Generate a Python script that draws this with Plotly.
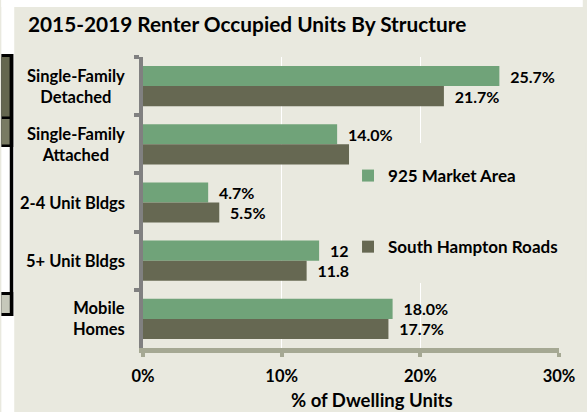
import plotly.graph_objects as go

categories = ["Single-Family<br>Detached", "Single-Family<br>Attached", "2-4 Unit Bldgs",
              "5+ Unit Bldgs", "Mobile<br>Homes"]
market_area = [25.7, 14.0, 4.7, 12.7, 18.0]
south_hampton = [21.7, 15.0, 5.5, 11.8, 17.7]
x_ticks = [0, 10, 20, 30]
x_tick_labels = ["0%", "10%", "20%", "30%"]

W, H = 587, 412
L, R, T, B = 143, 563, 57, 348
BG = "#e9e9df"
GREEN = "#70a379"
OLIVE = "#666852"
FONT = "Lato"


def px(x):
    return (x - L) / (R - L)


def py(y):
    return (B - y) / (B - T)


def rect(x0, y0, x1, y1, color, layer="below"):
    return dict(type="rect", xref="paper", yref="paper", x0=px(x0), x1=px(x1),
                y0=py(y0), y1=py(y1), fillcolor=color, line=dict(width=0), layer=layer)


def bfont(size):
    return dict(family=FONT, size=size, color="black", weight="bold")


fig = go.Figure()
label_tpl = "\u00a0\u00a0%{x:.1f}%"
fig.add_trace(go.Bar(y=categories, x=market_area, orientation="h", name="925 Market Area",
                     marker=dict(color=GREEN, line=dict(width=0)), legendgroup="a",
                     texttemplate=label_tpl, textposition="outside", constraintext="none",
                     cliponaxis=False, textfont=bfont(16)))
fig.add_trace(go.Bar(y=categories, x=south_hampton, orientation="h", name="South Hampton Roads",
                     marker=dict(color=OLIVE, line=dict(width=0)), legendgroup="b",
                     texttemplate=label_tpl, textposition="outside", constraintext="none",
                     cliponaxis=False, textfont=bfont(16)))

shapes = [
    rect(0, 0, W, 7, "white"),
    rect(0, 0, 13, H, "white"),
    rect(0, 54, 12, 147, "black"),
    rect(0, 57, 8.5, 116.5, "#65674f"),
    rect(0, 119, 8.5, 144.5, "#797b63"),
    rect(8.5, 54, 12, 316, "black"),
    rect(0, 292, 12, 316, "black"),
    rect(0, 295, 8.5, 313, "#c6c8ba"),
    rect(351, 143, 590, 283, BG, layer="above"),
]

annotations = []
for c in categories:
    annotations.append(dict(xref="paper", yref="y", x=px(127), y=c, xanchor="right",
                            yanchor="middle", text=c, showarrow=False, align="center",
                            font=bfont(16.5)))
annotations.append(dict(xref="paper", yref="paper", x=px(374), y=py(400), xanchor="center",
                        yanchor="middle", text="% of Dwelling Units", showarrow=False,
                        font=bfont(18.5)))

fig.update_layout(
    width=W, height=H,
    margin=dict(l=L, r=W - R, t=T, b=H - B, pad=0),
    paper_bgcolor=BG, plot_bgcolor=BG,
    barmode="group", bargap=0.31, bargroupgap=0,
    title=dict(text="2015-2019 Renter Occupied Units By Structure", xref="container",
               yref="container", x=28 / W, xanchor="left", y=1 - 25 / H, yanchor="middle",
               font=bfont(20.8)),
    showlegend=True,
    legend=dict(x=px(350), y=py(158), xanchor="left", yanchor="top", bgcolor="rgba(0,0,0,0)",
                traceorder="grouped", tracegroupgap=46, font=bfont(17), itemwidth=30),
    shapes=shapes, annotations=annotations,
    font=dict(family=FONT, color="black"),
)
fig.update_xaxes(range=[0, 30], tickvals=x_ticks, ticktext=x_tick_labels, showgrid=True,
                 gridcolor="white", gridwidth=1, zeroline=False, showline=True,
                 linecolor="#a5a893", linewidth=5, ticks="outside", ticklen=4, tickwidth=4,
                 tickcolor="#a5a893", ticklabelstandoff=5, tickfont=bfont(16.5))
fig.update_yaxes(autorange="reversed", showticklabels=False, showline=True,
                 linecolor="#808080", linewidth=4, ticks="outside", tickson="boundaries",
                 ticklen=5, tickwidth=4, tickcolor="#808080", showgrid=False, zeroline=False)

fig.write_html("out.html", config={"displayModeBar": False},
               post_script="document.body.style.margin='0';")
